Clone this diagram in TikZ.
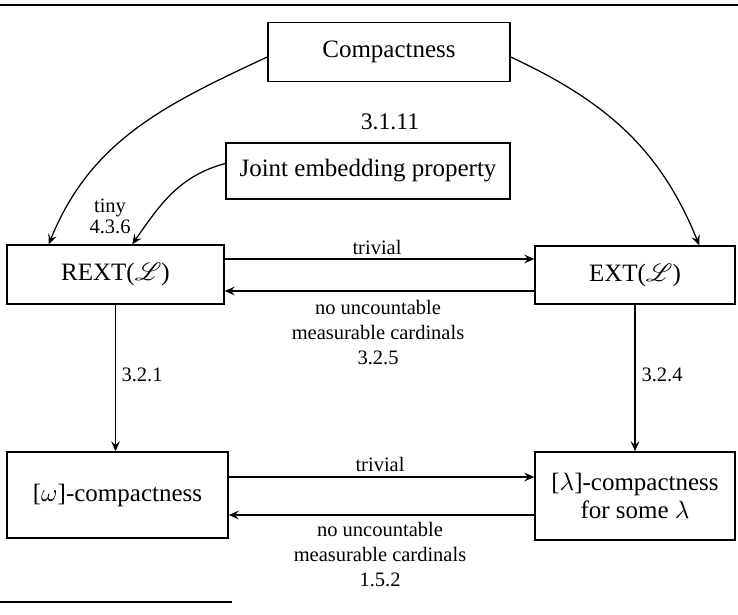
\documentclass[tikz,border=0pt]{standalone}
\usepackage{fontspec}
\setmainfont{Liberation Serif}
\usepackage{mathrsfs}
\usetikzlibrary{arrows.meta}

\begin{document}
\begin{tikzpicture}[x=0.4pt, y=-0.4pt,
  box/.style={draw, line width=0.6pt, inner sep=0pt, align=center,
    font=\fontsize{10}{11.5}\selectfont},
  lbl/.style={align=center, inner sep=0pt, font=\fontsize{8.2}{10}\selectfont},
  imp/.style={line width=0.5pt, -{Stealth[length=4pt,width=3.5pt,inset=1.5pt]}}]
  \useasboundingbox (0,0) rectangle (738,614);

  % Page rules
  \draw[line width=0.9pt] (0,5) -- (738,5);
  \draw[line width=0.9pt] (0,602) -- (232,602);

  % Boxes
  \node[box, minimum width=96.8pt, minimum height=23.6pt] (comp) at (389,52) {Compactness};
  \node[box, minimum width=113.6pt, minimum height=22.4pt] (jep) at (368,171) {Joint embedding property};
  \node[box, minimum width=86.8pt, minimum height=23.6pt] (rext) at (115.5,274.5) {REXT($\mathscr{L}$)};
  \node[box, minimum width=80pt, minimum height=23.2pt] (ext) at (635,275) {EXT($\mathscr{L}$)};
  \node[box, minimum width=88.4pt, minimum height=34.4pt] (omega) at (117.5,495) {[$\omega$]-compactness};
  \node[box, minimum width=80pt, minimum height=35.2pt] (lambda) at (635,496) {[$\lambda$]-compactness\\for some $\lambda$};

  % Compactness gives both extension properties
  \draw[imp] ([yshift=-2pt]comp.west) to[out=205, in=68] ([xshift=17pt]rext.north west);
  \draw[imp] ([yshift=-2pt]comp.east) to[out=-25, in=112] ([xshift=66pt]ext.north west);
  \node[lbl, font=\fontsize{9.5}{11}\selectfont] (l3111) at (390,122) {3.1.11};

  % Joint embedding
  \draw[imp] ([yshift=3pt]jep.west) to[out=195, in=55] ([xshift=50.4pt]rext.north west);
  \node[lbl, font=\fontsize{8.2}{8.5}\selectfont] (ltiny) at (110,216.5) {tiny\\4.3.6};

  % REXT <-> EXT
  \draw[imp] (rext.east |- 0,259) -- (ext.west |- 0,259);
  \draw[imp] (ext.west |- 0,291) -- (rext.east |- 0,291);
  \node[lbl] (ltop) at (377,247) {trivial};
  \node[lbl] (lback) at (378,333) {no uncountable\\measurable cardinals\\3.2.5};

  % Down to the compactness notions
  \draw[imp] (rext.south) -- (rext.south |- omega.north);
  \draw[imp] (ext.south) -- (ext.south |- lambda.north);
  \node[lbl] (l321) at (142,375) {3.2.1};
  \node[lbl] (l324) at (662,375) {3.2.4};

  % [omega] <-> [lambda]
  \draw[imp] (omega.east |- 0,477) -- (lambda.west |- 0,477);
  \draw[imp] (lambda.west |- 0,515) -- (omega.east |- 0,515);
  \node[lbl] (lbot) at (380,464) {trivial};
  \node[lbl] (lbback) at (380,555) {no uncountable\\measurable cardinals\\1.5.2};
\end{tikzpicture}
\end{document}
